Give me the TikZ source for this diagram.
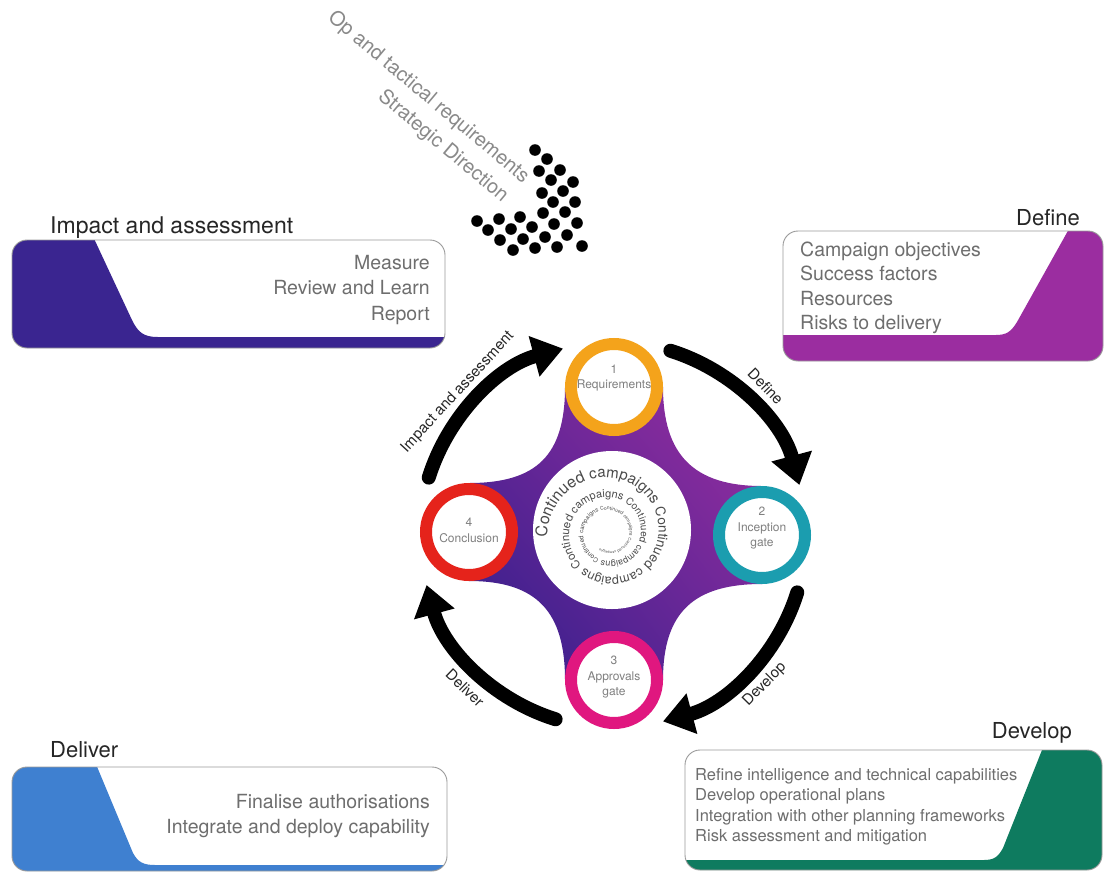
\documentclass[tikz,border=0pt]{standalone}
\usepackage{fontspec}
\setmainfont{TeX Gyre Heros}
\usetikzlibrary{arrows.meta,calc,decorations.text,shadings}
\definecolor{impactc}{HTML}{3A2590}
\definecolor{definec}{HTML}{9B2DA0}
\definecolor{deliverc}{HTML}{3F80D0}
\definecolor{developc}{HTML}{0E7B5F}
\definecolor{ringA}{HTML}{F4A31B}
\definecolor{ringB}{HTML}{1B9DAF}
\definecolor{ringC}{HTML}{E0177F}
\definecolor{ringD}{HTML}{E5231B}
\definecolor{starTL}{HTML}{652697}
\definecolor{starTR}{HTML}{9A2EA0}
\definecolor{starBL}{HTML}{2E1E8A}
\definecolor{starBR}{HTML}{6A2898}
\definecolor{headc}{HTML}{262626}
\definecolor{bodyc}{HTML}{6E6E6E}
\definecolor{boxline}{HTML}{9A9A9A}
\definecolor{ringtxt}{HTML}{808080}
\definecolor{spiralc}{HTML}{4A4A4A}
\definecolor{toptxt}{HTML}{8A8A8A}
\begin{document}
\begin{tikzpicture}[x=1pt,y=1pt,
  boxframe/.style={draw=boxline, line width=0.9pt, rounded corners=15pt},
  heading/.style={inner sep=0pt, text=headc, font=\fontsize{22}{26}\selectfont},
  bodytxt/.style={inner sep=0pt, text=bodyc, font=\fontsize{19.5}{24}\selectfont},
  devtxt/.style={inner sep=0pt, text=bodyc, font=\fontsize{16.5}{20}\selectfont},
  ring/.style={circle, draw=#1, line width=12pt, fill=white, minimum size=86pt, inner sep=0pt},
  ringlabel/.style={inner sep=0pt, align=center, text=ringtxt, font=\fontsize{12}{15.5}\selectfont},
  cyclearrow/.style={line width=14pt, line cap=round, -{Triangle[length=30pt,width=40pt]}},
  arclabel/.style={inner sep=0pt, text=headc, font=\fontsize{15}{18}\selectfont},
  toplabel/.style={inner sep=0pt, text=toptxt, font=\fontsize{20}{24}\selectfont, rotate=-40}
]
\useasboundingbox (0,0) rectangle (1106,-873);
\fill[white] (0,0) rectangle (1106,-873);

% ---------- top labels and dots ----------
\node[toplabel, anchor=base east] (opreq) at (523,-184) {Op and tactical requirements};
\node[toplabel, anchor=base east] (strat) at (502,-203) {Strategic Direction};
\foreach \px/\py in {535/150,547/159,539/171,560/170,551/180,573/182,542/193,563/191,553/202,575/202,
  477/221,499/219,520/217,543/213,565/212,488/230,511/229,532/227,554/224,577/223,
  500/240,523/239,545/237,567/235,513/250,535/248,557/247,582/246}
  \fill[black] (\px,-\py) circle (5.8);

% ---------- central star ----------
\shade[upper left=starTL, upper right=starTR, lower left=starBL, lower right=starBR]
 (663,-387) .. controls (663,-455) and (694,-486) .. (762,-486) -- (762,-584)
 .. controls (694,-584) and (663,-612) .. (663,-680) -- (565,-680)
 .. controls (565,-612) and (537,-581) .. (469,-581) -- (469,-483)
 .. controls (537,-483) and (565,-455) .. (565,-387) -- cycle;
\fill[white] (612,-530) circle (79);

% spiral text
\path[decorate, decoration={text along path, text color=spiralc,
  text={|\fontsize{16}{16}\selectfont|Continued |\fontsize{15}{15}\selectfont|campaigns |\fontsize{13.5}{14}\selectfont|Continued |\fontsize{12.5}{13}\selectfont|campaigns |\fontsize{11.5}{12}\selectfont|Continued |\fontsize{11}{11}\selectfont|campaigns |\fontsize{10}{10}\selectfont|Continued |\fontsize{9}{9}\selectfont|campaigns |\fontsize{6.5}{7}\selectfont|Continued |\fontsize{6}{7}\selectfont|campaigns |\fontsize{5}{6}\selectfont|Continued |\fontsize{4.5}{5}\selectfont|campaigns |\fontsize{4}{5}\selectfont|Continued |\fontsize{3.5}{4}\selectfont|campaigns}}]
  plot[domain=184:-1040, samples=400, variable=\t]
  ({609+62*exp(-0.4385*(184-\t)/360)*cos(\t)}, {-533+62*exp(-0.4385*(184-\t)/360)*sin(\t)});

% ---------- rings ----------
\node[ring=ringA] (c1) at (614,-387) {};
\node[ring=ringB] (c2) at (762,-535) {};
\node[ring=ringC] (c3) at (614,-680) {};
\node[ring=ringD] (c4) at (469,-532) {};
\node[ringlabel] (t1) at (614,-378) {1\\Requirements};
\node[ringlabel] (t2) at (762,-528.5) {2\\Inception\\gate};
\node[ringlabel] (t3) at (614,-677.5) {3\\Approvals\\gate};
\node[ringlabel] (t4) at (469,-530.5) {4\\Conclusion};

% ---------- cycle arrows ----------
\coordinate (ctr) at (613,-535);
\coordinate (aDef) at ($(ctr)+(72.7:193)$);
\coordinate (aDev) at ($(ctr)+(-17.3:193)$);
\coordinate (aDel) at ($(ctr)+(-107.3:193)$);
\coordinate (aImp) at ($(ctr)+(162.7:193)$);
\draw[cyclearrow] (aDef) arc[start angle=72.7, end angle=15, radius=193];
\draw[cyclearrow] (aDev) arc[start angle=-17.3, end angle=-75, radius=193];
\draw[cyclearrow] (aDel) arc[start angle=-107.3, end angle=-165, radius=193];
\draw[cyclearrow] (aImp) arc[start angle=162.7, end angle=105, radius=193];
\node[arclabel, rotate=-45.8] (lDef) at ($(ctr)+(44.2:213)$) {Define};
\node[arclabel, rotate=45.4] (lDev) at ($(ctr)+(-44.6:213)$) {Develop};
\node[arclabel, rotate=-44] (lDel) at ($(ctr)+(-134:213)$) {Deliver};
\node[arclabel, rotate=47.4] (lImp) at ($(ctr)+(137.4:211)$) {Impact and assessment};

% ---------- Impact box ----------
\begin{scope}
\clip[rounded corners=15pt] (12,-240) rectangle (445,-348);
\fill[impactc] (0,-230) -- (90,-230) -- (132,-320) .. controls (138,-332) and (143,-337) .. (158,-337) -- (460,-337) -- (460,-360) -- (0,-360) -- cycle;
\end{scope}
\draw[boxframe] (12,-240) rectangle (445,-348);
\node[heading, anchor=base west, font=\fontsize{23}{26}\selectfont] (hImp) at (50,-233) {Impact and assessment};
\node[bodytxt, anchor=base east] (i1) at (430,-269) {Measure};
\node[bodytxt, anchor=base east] (i2) at (430,-294.5) {Review and Learn};
\node[bodytxt, anchor=base east] (i3) at (430,-320) {Report};

% ---------- Define box ----------
\begin{scope}
\clip[rounded corners=15pt] (783,-231) rectangle (1103,-361);
\fill[definec] (1074,-220) -- (1017,-322) .. controls (1011,-332) and (1006,-335) .. (996,-335) -- (770,-335) -- (770,-375) -- (1115,-375) -- (1115,-220) -- cycle;
\end{scope}
\draw[boxframe] (783,-231) rectangle (1103,-361);
\node[heading, anchor=base east] (hDef) at (1080,-225) {Define};
\node[bodytxt, anchor=base west] (d1) at (800,-256) {Campaign objectives};
\node[bodytxt, anchor=base west] (d2) at (800,-280.5) {Success factors};
\node[bodytxt, anchor=base west] (d3) at (800,-305) {Resources};
\node[bodytxt, anchor=base west] (d4) at (800,-329.5) {Risks to delivery};

% ---------- Develop box ----------
\begin{scope}
\clip[rounded corners=15pt] (685,-750) rectangle (1102,-870);
\fill[developc] (1046,-740) -- (1003,-848) .. controls (998,-857) and (994,-860) .. (984,-860) -- (670,-860) -- (670,-880) -- (1115,-880) -- (1115,-740) -- cycle;
\end{scope}
\draw[boxframe] (685,-750) rectangle (1102,-870);
\node[heading, anchor=base east] (hDev) at (1072,-738) {Develop};
\node[devtxt, anchor=base west] (v1) at (695,-780) {Refine intelligence and technical capabilities};
\node[devtxt, anchor=base west] (v2) at (695,-800.5) {Develop operational plans};
\node[devtxt, anchor=base west] (v3) at (695,-821) {Integration with other planning frameworks};
\node[devtxt, anchor=base west] (v4) at (695,-841.5) {Risk assessment and mitigation};

% ---------- Deliver box ----------
\begin{scope}
\clip[rounded corners=15pt] (12,-767) rectangle (447,-871);
\fill[deliverc] (0,-757) -- (93,-757) -- (133,-853) .. controls (138,-862) and (143,-865) .. (155,-865) -- (460,-865) -- (460,-885) -- (0,-885) -- cycle;
\end{scope}
\draw[boxframe] (12,-767) rectangle (447,-871);
\node[heading, anchor=base west] (hDel) at (50,-757) {Deliver};
\node[bodytxt, anchor=base east] (l1) at (430,-808) {Finalise authorisations};
\node[bodytxt, anchor=base east] (l2) at (430,-833) {Integrate and deploy capability};
\end{tikzpicture}
\end{document}
